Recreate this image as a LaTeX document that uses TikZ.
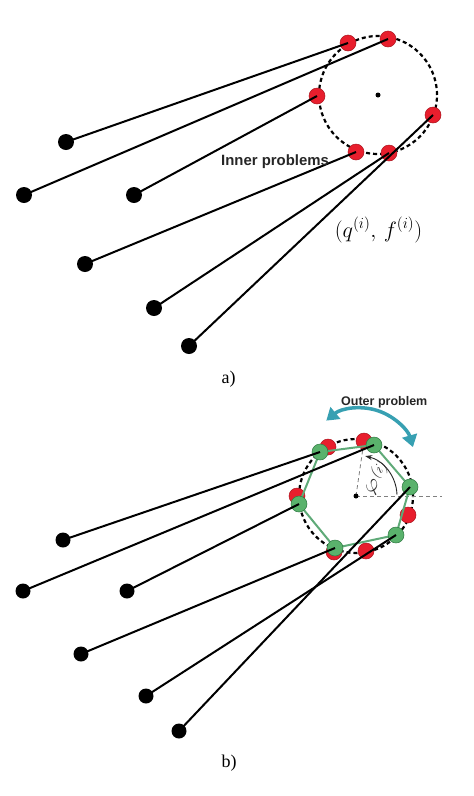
\documentclass[tikz,border=0pt]{standalone}
\usepackage[no-math]{fontspec}
\newfontfamily\capfont{Liberation Serif}
\newfontfamily\labelsans{Liberation Sans}
\usetikzlibrary{arrows.meta}
\definecolor{dotred}{RGB}{232,30,45}
\definecolor{dotredline}{RGB}{170,20,30}
\definecolor{dotgreen}{RGB}{90,178,108}
\definecolor{dotgreenline}{RGB}{45,120,65}
\definecolor{polygreen}{RGB}{95,170,120}
\definecolor{arrowteal}{RGB}{55,160,178}
\tikzset{
  reddot/.style={circle, fill=dotred, draw=dotredline, line width=0.5pt, minimum size=16pt, inner sep=0pt},
  blackdot/.style={circle, fill=black, minimum size=16pt, inner sep=0pt},
  greendot/.style={circle, fill=dotgreen, draw=dotgreenline, line width=0.5pt, minimum size=16pt, inner sep=0pt},
  centerdot/.style={circle, fill=black, minimum size=5pt, inner sep=0pt},
  link/.style={line width=2pt, black},
  ring/.style={line width=2.2pt, dash pattern=on 4pt off 3pt},
  guide/.style={black!50, line width=0.8pt, dash pattern=on 4pt off 3pt},
  poly/.style={polygreen, line width=2pt, line join=round},
  turn/.style={arrowteal, line width=3.5pt, {Triangle[length=12pt,width=15pt]}-{Triangle[length=12pt,width=15pt]}},
  anglearc/.style={line width=0.9pt, black!85, -{Stealth[length=7pt,width=5pt]}},
  boldlabel/.style={font=\labelsans\bfseries\fontsize{#1}{#1}\selectfont, text=black!85, inner sep=0pt},
  caption/.style={font=\capfont\fontsize{18}{22}\selectfont, inner sep=0pt},
  mathlabel/.style={font=\fontsize{20.74}{25}\selectfont, inner sep=0pt}
}
\begin{document}
\begin{tikzpicture}[x=1pt,y=1pt]
\fill[white] (0,0) rectangle (474,-796);
\useasboundingbox (0,0) rectangle (474,-796);

% ---------- panel a ----------
\coordinate (ca) at (378,-95);
\draw[ring] (ca) circle[radius=59];
\node[reddot] (ra1) at (348,-43) {};
\node[reddot] (ra2) at (388,-39) {};
\node[reddot] (ra3) at (317,-96) {};
\node[reddot] (ra4) at (433,-115) {};
\node[reddot] (ra5) at (356,-152) {};
\node[reddot] (ra6) at (389,-153) {};
\node[centerdot] (cadot) at (ca) {};
\node[blackdot] (ba1) at (66,-142) {};
\node[blackdot] (ba2) at (24,-195) {};
\node[blackdot] (ba3) at (134,-195) {};
\node[blackdot] (ba4) at (85,-264) {};
\node[blackdot] (ba5) at (154,-308) {};
\node[blackdot] (ba6) at (189,-346) {};
\draw[link] (ba1.center) -- (ra1.center);
\draw[link] (ba2.center) -- (ra2.center);
\draw[link] (ba3.center) -- (ra3.center);
\draw[link] (ba4.center) -- (ra5.center);
\draw[link] (ba5.center) -- (ra6.center);
\draw[link] (ba6.center) -- (ra4.center);
\node[boldlabel=14.9, anchor=base west] (inner) at (221,-165.5) {Inner problems};
\node[mathlabel, anchor=base] (qf) at (378.5,-237) {\scalebox{1.07}{$(q^{(i)},\, f^{(i)})$}};
\node[caption, anchor=base] (capa) at (228.5,-383) {a)};

% ---------- panel b ----------
\coordinate (cb) at (356,-496);
\coordinate (hz) at (442,-496);
\draw[ring] (cb) circle[radius=57];
\node[reddot] (rb1) at (328,-447) {};
\node[reddot] (rb2) at (364,-441) {};
\node[reddot] (rb3) at (297,-496) {};
\node[reddot] (rb4) at (408,-515) {};
\node[reddot] (rb5) at (334,-552) {};
\node[reddot] (rb6) at (366,-551) {};
\draw[guide] (cb) -- (hz);
\draw[guide] (cb) -- (rb2);
\coordinate (gb1) at (320,-452);
\coordinate (gb2) at (374,-445);
\coordinate (gb3) at (410,-487);
\coordinate (gb4) at (299,-504);
\coordinate (gb5) at (335,-548);
\coordinate (gb6) at (396,-535);
\draw[poly] (gb1) -- (gb2) -- (gb3) -- (gb6) -- (gb5) -- (gb4) -- cycle;
\node[greendot] (g1) at (gb1) {};
\node[greendot] (g2) at (gb2) {};
\node[greendot] (g3) at (gb3) {};
\node[greendot] (g4) at (gb4) {};
\node[greendot] (g5) at (gb5) {};
\node[greendot] (g6) at (gb6) {};
\node[centerdot] (cbdot) at (cb) {};
\node[blackdot, minimum size=15pt] (bb1) at (63,-540) {};
\node[blackdot, minimum size=15pt] (bb2) at (23,-591) {};
\node[blackdot, minimum size=15pt] (bb3) at (127,-591) {};
\node[blackdot, minimum size=15pt] (bb4) at (81,-654) {};
\node[blackdot, minimum size=15pt] (bb5) at (146,-696) {};
\node[blackdot, minimum size=15pt] (bb6) at (179,-731) {};
\draw[link] (bb1.center) -- (g1.center);
\draw[link] (bb2.center) -- (g2.center);
\draw[link] (bb3.center) -- (g4.center);
\draw[link] (bb4.center) -- (g5.center);
\draw[link] (bb5.center) -- (g6.center);
\draw[link] (bb6.center) -- (g3.center);
\draw[anglearc] ([shift={(2:41)}]cb) arc[start angle=2, end angle=77, radius=41];
\node[mathlabel, rotate=40, text=black!80] (phi) at (377,-478) {\scalebox{1.07}{$\varphi^{(i)}$}};
\coordinate (ct) at (361,-462);
\draw[turn] ([shift={(130:54)}]ct) arc[start angle=130, end angle=16, radius=54];
\node[boldlabel=12.5, anchor=base west] (outer) at (341,-405.5) {Outer problem};
\node[caption, anchor=base] (capb) at (229,-767) {b)};
\end{tikzpicture}
\end{document}
